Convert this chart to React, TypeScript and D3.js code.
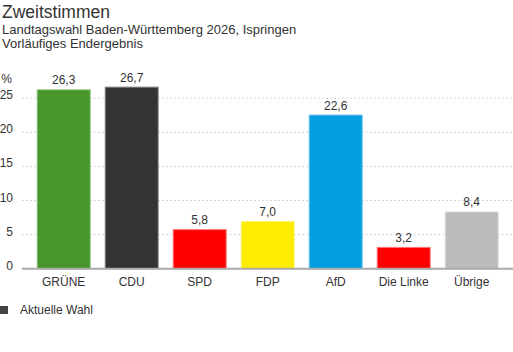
import React from "react";
import * as d3 from "d3";

const categories = ["GRÜNE", "CDU", "SPD", "FDP", "AfD", "Die Linke", "Übrige"];
const values = [26.3, 26.7, 5.8, 7.0, 22.6, 3.2, 8.4];
const fills = ["#46962b", "#333333", "#ff0000", "#ffed00", "#009ee0", "#ff0000", "#bbbbbb"];
const strokes = ["#8cc47a", "#888888", "#ff7777", "#fff27a", "#66c4ee", "#ff7777", "#dddddd"];
const yTicks = [0, 5, 10, 15, 20, 25];

const W = 513;
const H = 352;

export default function App() {
  const x = d3.scaleBand<string>().domain(categories).range([29.7, 505.7]).paddingInner(0.206).paddingOuter(0.103);
  const y = d3.scaleLinear().domain([0, 25]).range([268.7, 98.2]);
  const font = "'Liberation Sans', Arial, sans-serif";
  return (
    <svg width={W} height={H} style={{ position: "absolute", left: 0, top: 0 }} fontFamily={font}>
      <text x={2} y={18} fontSize={17.5} fill="#333">Zweitstimmen</text>
      <text x={2} y={34} fontSize={13} fill="#333">Landtagswahl Baden-Württemberg 2026, Ispringen</text>
      <text x={2} y={48} fontSize={13} fill="#333">Vorläufiges Endergebnis</text>
      <text x={12} y={83} fontSize={12} fill="#333" textAnchor="end">%</text>
      {yTicks.map((t) => (
        <g key={t}>
          {t > 0 && (
            <line x1={22} x2={513} y1={y(t)} y2={y(t)} stroke="#d8d8d8" strokeDasharray="2,2" />
          )}
          <text x={13} y={y(t) + 1} fontSize={12} fill="#333" textAnchor="end">{t}</text>
        </g>
      ))}
      {categories.map((c, i) => {
        const x0 = x(c)!;
        const bw = x.bandwidth();
        const top = y(values[i]);
        return (
          <g key={c}>
            <rect x={x0 + 0.5} y={top + 0.5} width={bw - 1} height={y(0) - top - 0.5} fill={fills[i]} stroke={strokes[i]} strokeWidth={1} />
            <text x={x0 + bw / 2} y={top - 5} fontSize={12} fill="#333" textAnchor="middle">
              {values[i].toFixed(1).replace(".", ",")}
            </text>
            <text x={x0 + bw / 2} y={286} fontSize={12} fill="#333" textAnchor="middle">{c}</text>
          </g>
        );
      })}
      <line x1={22} x2={513} y1={y(0)} y2={y(0)} stroke="#aaa" strokeWidth={2} />
      <rect x={-2} y={306} width={10} height={8} fill="#444" />
      <text x={20} y={314} fontSize={12} fill="#333">Aktuelle Wahl</text>
    </svg>
  );
}
